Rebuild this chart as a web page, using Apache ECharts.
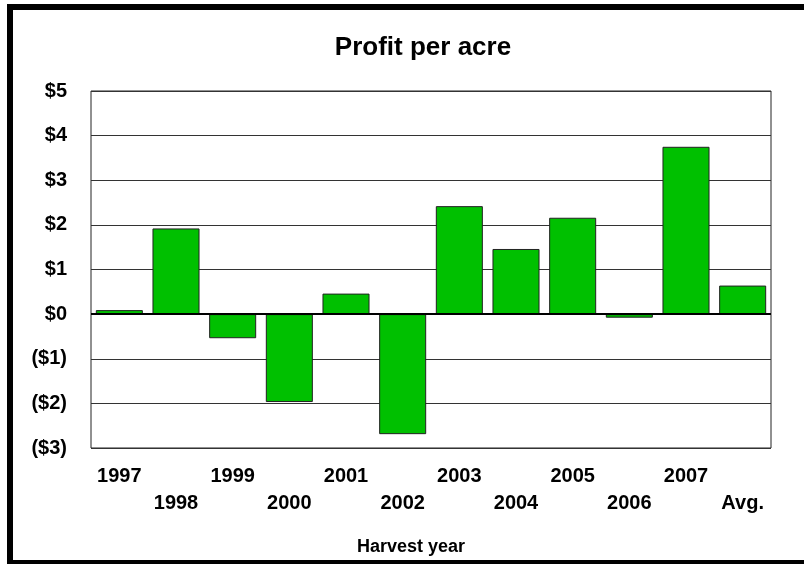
<!DOCTYPE html>
<html>
<head>
<meta charset="utf-8">
<script src="https://cdn.jsdelivr.net/npm/echarts@6/dist/echarts.min.js"></script>
<style>
  html, body { margin: 0; padding: 0; background: #fff; }
  #chart { width: 804px; height: 564px; }
</style>
</head>
<body>
<div id="chart"></div>
<script>
// harvest years (last one is the average)
const years = ["1997", "1998", "1999", "2000", "2001", "2002", "2003", "2004", "2005", "2006", "2007", "Avg."];
// profit per acre, dollars
const profit = [0.09, 1.92, -0.54, -1.97, 0.46, -2.69, 2.42, 1.46, 2.16, -0.08, 3.75, 0.64];
const yMin = -3, yMax = 5, yStep = 1;

const chart = echarts.init(document.getElementById("chart"));
const font = "Liberation Sans, Arial, sans-serif";

function money(v) {
  return v < 0 ? "($" + (-v) + ")" : "$" + v;
}

const option = {
  backgroundColor: "#fff",
  animation: false,
  title: [
    {
      text: "Profit per acre",
      left: 418, top: 30, textAlign: "center",
      textStyle: { fontFamily: font, fontWeight: "bold", fontSize: 26, color: "#000" }
    },
    {
      text: "Harvest year",
      left: 406, top: 533, textAlign: "center",
      textStyle: { fontFamily: font, fontWeight: "bold", fontSize: 18, color: "#000" }
    }
  ],
  grid: {
    left: 91, right: 33, top: 91, bottom: 116,
    show: true, borderColor: "#222", borderWidth: 1
  },
  xAxis: {
    type: "category",
    data: years,
    offset: 2,
    axisLine: { lineStyle: { color: "#999", width: 2 } },
    axisTick: { show: false },
    axisLabel: {
      interval: 0,
      margin: 13,
      lineHeight: 27,
      fontFamily: font, fontWeight: "bold", fontSize: 20, color: "#000",
      formatter: (v, i) => (i % 2 ? "\n" + v : v)
    }
  },
  yAxis: {
    type: "value",
    min: yMin, max: yMax, interval: yStep,
    axisLine: { show: false },
    axisTick: { show: false },
    splitLine: { lineStyle: { color: "#333", width: 1 } },
    axisLabel: {
      margin: 24,
      fontFamily: font, fontWeight: "bold", fontSize: 20, color: "#000",
      formatter: money
    }
  },
  series: [
    {
      type: "bar",
      data: profit,
      barCategoryGap: "17%",
      itemStyle: { color: "#00c000", borderColor: "#222", borderWidth: 1 },
      markLine: {
        silent: true,
        symbol: "none",
        label: { show: false },
        lineStyle: { color: "#000", width: 2, type: "solid" },
        data: [{ yAxis: 0 }]
      }
    }
  ],
  graphic: [
    {
      type: "rect",
      shape: { x: 10, y: 7, width: 810, height: 556 },
      style: { fill: null, stroke: "#000", lineWidth: 6 },
      z: 100
    }
  ]
};

chart.setOption(option);
</script>
</body>
</html>
